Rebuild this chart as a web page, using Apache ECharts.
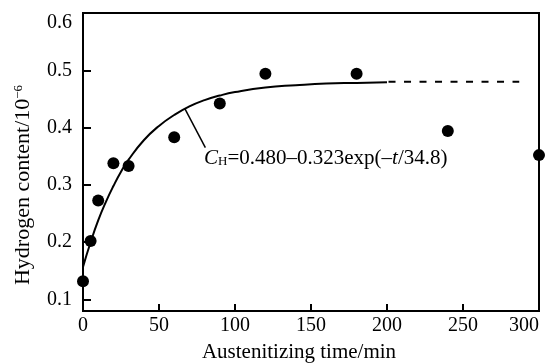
<!DOCTYPE html>
<html>
<head>
<meta charset="utf-8">
<script src="https://cdn.jsdelivr.net/npm/echarts@6/dist/echarts.min.js"></script>
<style>
html,body{margin:0;padding:0;background:#fff;}
#main{width:549px;height:363px;}
</style>
</head>
<body>
<div id="main"></div>
<script>
// Measured data points (time in min, hydrogen content in 1e-6)
var timeMin = [0, 5, 10, 20, 30, 60, 90, 120, 180, 240, 300];
var hydrogen = [0.132, 0.202, 0.273, 0.338, 0.333, 0.383, 0.442, 0.494, 0.494, 0.394, 0.352];

// Fitted curve (solid part)
var fitTime = [0, 5, 10, 15, 20, 25, 30, 40, 50, 60, 70, 80, 90, 100, 120, 140, 160, 180, 200];
var fitValue = [0.157, 0.200, 0.238, 0.270, 0.298, 0.323, 0.344, 0.378, 0.403, 0.422, 0.437, 0.448, 0.456, 0.462, 0.470, 0.474, 0.477, 0.478, 0.479];

// Dashed extension of the plateau
var dashTime = [201, 287];
var dashValue = [0.480, 0.480];

// Tick labels
var xTicks = [0, 50, 100, 150, 200, 250, 300];
var yTicks = [0.1, 0.2, 0.3, 0.4, 0.5, 0.6];

var FONT = '"Liberation Serif", "Times New Roman", serif';

var chart = echarts.init(document.getElementById('main'), null, {renderer: 'canvas'});

function zip(a, b) { return a.map(function (v, i) { return [v, b[i]]; }); }

var option = {
  animation: false,
  backgroundColor: '#fff',
  grid: {
    left: 83, right: 10, top: 13, bottom: 52,
    outerBoundsMode: 'none', containLabel: false,
    show: true, borderColor: '#000', borderWidth: 2, backgroundColor: 'transparent'
  },
  xAxis: {
    type: 'value', min: 0, max: 300, interval: 50,
    axisLine: {lineStyle: {color: '#000', width: 2}},
    axisTick: {inside: true, length: 7, lineStyle: {color: '#000', width: 2}, customValues: xTicks},
    axisLabel: {color: '#000', fontFamily: FONT, fontSize: 20, margin: 5, customValues: xTicks,
      alignMaxLabel: 'right'},
    splitLine: {show: false}
  },
  yAxis: {
    type: 'value', min: 0.08, max: 0.6,
    axisLine: {lineStyle: {color: '#000', width: 2}},
    axisTick: {inside: true, length: 8, lineStyle: {color: '#000', width: 2}, customValues: yTicks},
    axisLabel: {color: '#000', fontFamily: FONT, fontSize: 20, margin: 11, customValues: yTicks,
      verticalAlignMaxLabel: 'top',
      formatter: function (v) { return v.toFixed(1); }},
    splitLine: {show: false}
  },
  series: [
    {
      type: 'line', data: zip(fitTime, fitValue), smooth: true, showSymbol: false,
      lineStyle: {color: '#000', width: 2}, z: 2,
      markLine: {
        silent: true, symbol: 'none', animation: false,
        lineStyle: {color: '#000', width: 1.5, type: 'solid'},
        label: {show: false},
        data: [[{coord: [67, 0.433]}, {coord: [80.5, 0.365]}]]
      }
    },
    {
      type: 'line', data: zip(dashTime, dashValue), showSymbol: false,
      lineStyle: {color: '#000', width: 2, type: [7, 8.5]}, z: 2
    },
    {
      type: 'scatter', data: zip(timeMin, hydrogen), symbol: 'circle', symbolSize: 12,
      itemStyle: {color: '#000', opacity: 1}, clip: false, z: 3
    }
  ],
  graphic: [
    {
      type: 'text', x: 204, y: 158, z: 10,
      style: {
        text: '{i|C}{s|H}{n|=0.480\u20130.323exp(\u2013}{i|t}{n|/34.8)}',
        align: 'left', verticalAlign: 'middle',
        rich: {
          i: {fontFamily: FONT, fontSize: 21, fontStyle: 'italic', fill: '#000'},
          s: {fontFamily: FONT, fontSize: 13, fill: '#000', verticalAlign: 'bottom'},
          n: {fontFamily: FONT, fontSize: 21, fill: '#000'}
        }
      }
    },
    {
      type: 'text', x: 299, y: 352, z: 10,
      style: {
        text: 'Austenitizing time/min', fontFamily: FONT, fontSize: 21, fill: '#000',
        align: 'center', verticalAlign: 'middle'
      }
    },
    {
      type: 'text', x: 23, y: 185, rotation: Math.PI / 2, z: 10,
      style: {
        text: '{n|Hydrogen content/10}{p|\u22126}',
        align: 'center', verticalAlign: 'middle',
        rich: {
          n: {fontFamily: FONT, fontSize: 22, fill: '#000'},
          p: {fontFamily: FONT, fontSize: 13, fill: '#000', verticalAlign: 'top'}
        }
      }
    }
  ]
};

chart.setOption(option);
</script>
</body>
</html>
